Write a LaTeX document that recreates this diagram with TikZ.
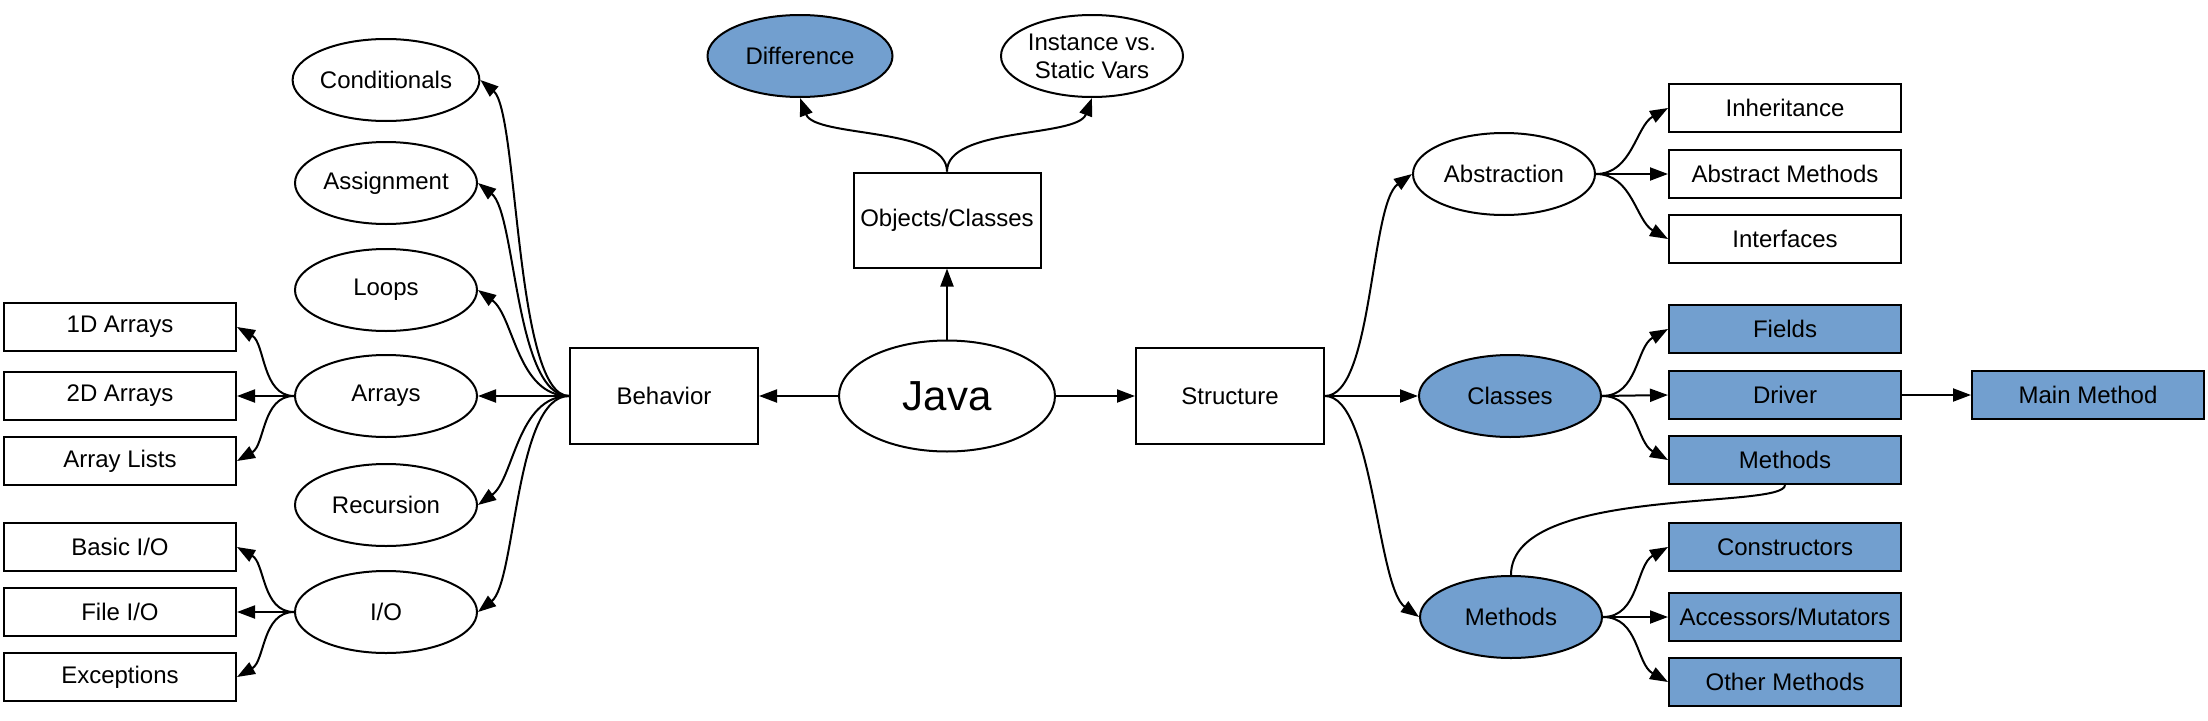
\documentclass[tikz,border=0pt]{standalone}
\usepackage{fontspec}
\setmainfont{Liberation Sans}
\usetikzlibrary{shapes.geometric,arrows.meta}
\definecolor{nodeblue}{HTML}{729FCF}
\begin{document}
\begin{tikzpicture}[x=1pt,y=-1pt,
  every node/.style={font=\fontsize{24}{28}\selectfont, line width=2pt, draw=black, text=black, inner sep=0pt},
  ell/.style={ellipse, minimum width=182pt, minimum height=82pt, fill=white},
  box/.style={rectangle, minimum width=232pt, minimum height=48pt, fill=white},
  bigbox/.style={rectangle, minimum width=188pt, minimum height=96pt, fill=white},
  bfill/.style={fill=nodeblue},
  arr/.style={line width=2pt, -{Triangle[length=18pt,width=13pt]}},
  con/.style={line width=2pt}]
\useasboundingbox (0,0) rectangle (2208,720);

% left boxes
\node[box] (a1) at (120,327) {1D Arrays};
\node[box] (a2) at (120,396) {2D Arrays};
\node[box] (a3) at (120,461) {Array Lists};
\node[box] (io1) at (120,547) {Basic I/O};
\node[box] (io2) at (120,612) {File I/O};
\node[box] (io3) at (120,677) {Exceptions};

% left ellipses
\node[ell] (cond) at (386,80) {Conditionals};
\node[ell] (assign) at (386,183) {Assignment};
\node[ell] (loops) at (386,290) {Loops};
\node[ell] (arrays) at (386,396) {Arrays};
\node[ell] (recur) at (386,505) {Recursion};
\node[ell] (io) at (386,612) {I/O};

% centre
\node[bigbox] (beh) at (664,396) {Behavior};
\node[ellipse, minimum width=216pt, minimum height=111pt, fill=white, font=\fontsize{42}{48}\selectfont] (java) at (947,396) {Java};
\node[bigbox, minimum width=187pt, minimum height=95pt] (obj) at (947,220) {Objects/Classes};
\node[ell, bfill, minimum width=185pt] (diff) at (800,56) {Difference};
\node[ell, align=center] (inst) at (1092,56) {Instance vs.\\Static Vars};
\node[bigbox] (struct) at (1230,396) {Structure};

% right ellipses
\node[ell] (abs) at (1504,174) {Abstraction};
\node[ell, bfill] (classes) at (1510,396) {Classes};
\node[ell, bfill] (meth) at (1511,617) {Methods};

% right boxes
\node[box] (inh) at (1785,108) {Inheritance};
\node[box] (absm) at (1785,174) {Abstract Methods};
\node[box] (intf) at (1785,239) {Interfaces};
\node[box, bfill] (fields) at (1785,329) {Fields};
\node[box, bfill] (driver) at (1785,395) {Driver};
\node[box, bfill] (mbox) at (1785,460) {Methods};
\node[box, bfill] (mainm) at (2088,395) {Main Method};
\node[box, bfill] (ctor) at (1785,547) {Constructors};
\node[box, bfill] (accm) at (1785,617) {Accessors/Mutators};
\node[box, bfill] (other) at (1785,682) {Other Methods};

% Behavior fan
\draw[arr] (beh.west) .. controls +(-54,0) and +(38,32) .. (cond.east);
\draw[arr] (beh.west) .. controls +(-54,0) and +(38,30) .. (assign.east);
\draw[arr] (beh.west) .. controls +(-52,0) and +(36,26) .. (loops.east);
\draw[arr] (beh.west) -- (arrays.east);
\draw[arr] (beh.west) .. controls +(-52,0) and +(36,-26) .. (recur.east);
\draw[arr] (beh.west) .. controls +(-54,0) and +(38,-30) .. (io.east);

% Arrays fan
\draw[arr] (arrays.west) .. controls +(-32,0) and +(28,16) .. (a1.east);
\draw[arr] (arrays.west) -- (a2.east);
\draw[arr] (arrays.west) .. controls +(-32,0) and +(28,-16) .. (a3.east);
% I/O fan
\draw[arr] (io.west) .. controls +(-32,0) and +(28,16) .. (io1.east);
\draw[arr] (io.west) -- (io2.east);
\draw[arr] (io.west) .. controls +(-32,0) and +(28,-16) .. (io3.east);

% Java
\draw[arr] (java.west) -- (beh.east);
\draw[arr] (java.east) -- (struct.west);
\draw[arr] (java.north) -- (obj.south);
\draw[arr] (obj.north) .. controls +(0,-45) and +(15,40) .. (diff.south);
\draw[arr] (obj.north) .. controls +(0,-45) and +(-15,40) .. (inst.south);

% Structure fan
\draw[arr] (struct.east) .. controls +(48,0) and +(-42,30) .. (abs.west);
\draw[arr] (struct.east) -- (classes.west);
\draw[arr] (struct.east) .. controls +(48,0) and +(-42,-30) .. (meth.west);

% Abstraction fan
\draw[arr] (abs.east) .. controls +(36,0) and +(-32,18) .. (inh.west);
\draw[arr] (abs.east) -- (absm.west);
\draw[arr] (abs.east) .. controls +(36,0) and +(-32,-18) .. (intf.west);
% Classes fan
\draw[arr] (classes.east) .. controls +(36,0) and +(-32,18) .. (fields.west);
\draw[arr] (classes.east) -- (driver.west);
\draw[arr] (classes.east) .. controls +(36,0) and +(-32,-18) .. (mbox.west);
\draw[arr] (driver.east) -- (mainm.west);
% Methods fan
\draw[arr] (meth.east) .. controls +(36,0) and +(-32,18) .. (ctor.west);
\draw[arr] (meth.east) -- (accm.west);
\draw[arr] (meth.east) .. controls +(36,0) and +(-32,-18) .. (other.west);
% Methods box to Methods ellipse
\draw[con] (mbox.south) .. controls +(0,25) and +(0,-90) .. (meth.north);
\end{tikzpicture}
\end{document}
